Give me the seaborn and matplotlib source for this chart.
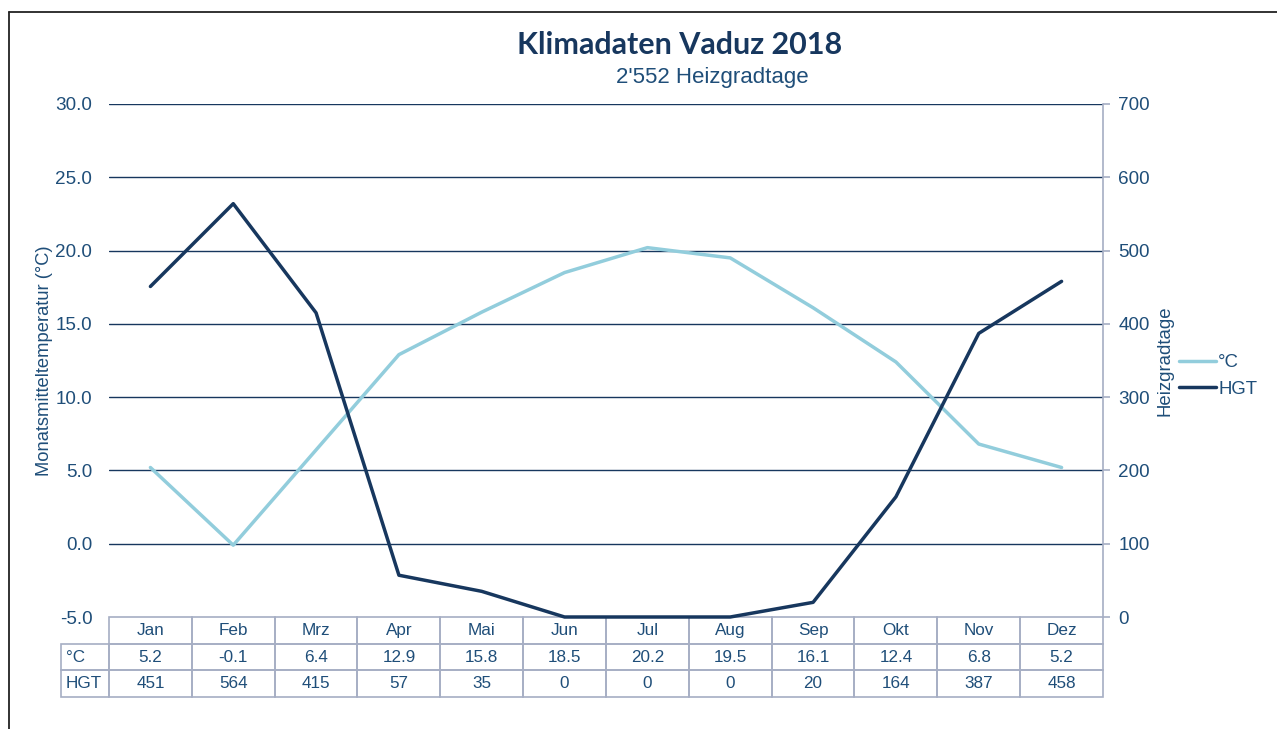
import matplotlib
matplotlib.use("Agg")
import matplotlib.pyplot as plt
import seaborn as sns
import pandas as pd
from matplotlib.table import Table
from matplotlib.lines import Line2D
from matplotlib.ticker import FormatStrFormatter

# ---- data ----
months = ["Jan", "Feb", "Mrz", "Apr", "Mai", "Jun", "Jul", "Aug", "Sep", "Okt", "Nov", "Dez"]
temp = [5.2, -0.1, 6.4, 12.9, 15.8, 18.5, 20.2, 19.5, 16.1, 12.4, 6.8, 5.2]
hgt = [451, 564, 415, 57, 35, 0, 0, 0, 20, 164, 387, 458]
row_labels = ["°C", "HGT"]
title = "Klimadaten Vaduz 2018"
subtitle = "2'552 Heizgradtage"

LIGHT = "#92CDDC"
DARK = "#17375E"
TXT = "#1F4E79"
GRID = "#17375E"
EDGE = "#A6AEC4"

sns.set_style("white")
plt.rcParams["font.family"] = ["Liberation Sans", "DejaVu Sans"]

W, H = 1277, 729
fig = plt.figure(figsize=(W / 100, H / 100), dpi=100)
ax = fig.add_axes([109 / W, 1 - 617 / H, 994 / W, 513 / H])
ax2 = ax.twinx()

df = pd.DataFrame({"Monat": months, "temp": temp, "hgt": hgt})
sns.lineplot(data=df, x="Monat", y="temp", ax=ax, color=LIGHT, lw=2.5, sort=False, legend=False)
sns.lineplot(data=df, x="Monat", y="hgt", ax=ax2, color=DARK, lw=2.5, sort=False, legend=False)
for l in ax.lines + ax2.lines:
    l.set_clip_on(False)
    l.set_solid_joinstyle("round")

ax.set_xlim(-0.5, 11.5)
ax.set_xticks([])
ax.set_xlabel("")
ax.set_ylim(-5, 30)
ax.set_yticks(range(-5, 31, 5))
ax.yaxis.set_major_formatter(FormatStrFormatter("%.1f"))
ax2.set_ylim(0, 700)
ax2.set_yticks(range(0, 701, 100))

for s in ax.spines.values():
    s.set_visible(False)
for k, s in ax2.spines.items():
    s.set_visible(k == "right")
ax2.spines["right"].set_color(EDGE)
ax2.spines["right"].set_linewidth(1.2)

ax.grid(axis="y", color=GRID, lw=1.0)
ax.set_axisbelow(True)
ax.yaxis.get_gridlines()[0].set_visible(False)

ax.tick_params(axis="y", length=0, pad=12, labelsize=13.6, labelcolor=TXT)
ax2.tick_params(axis="y", length=5, width=1.2, color=EDGE, pad=6, labelsize=13.6, labelcolor=TXT, direction="out")

ax.set_ylabel("Monatsmitteltemperatur (°C)", fontsize=13.2, color=TXT, labelpad=2)
ax2.set_ylabel("Heizgradtage", fontsize=13.4, color=TXT, labelpad=5)

# ---- data table ----
tb = Table(ax, bbox=[-48 / 994, -80 / 513, 1 + 48 / 994, 80 / 513])
w0 = 48 / 994
wc = 1 / 12
rows = [[""] + months,
        [row_labels[0]] + [f"{v:.1f}" for v in temp],
        [row_labels[1]] + [str(v) for v in hgt]]
for r, row in enumerate(rows):
    for c, txt in enumerate(row):
        cell = tb.add_cell(r, c, w0 if c == 0 else wc, 1 / 3, text=txt,
                           loc="left" if c == 0 else "center",
                           edgecolor=EDGE, facecolor="none")
        cell.set_linewidth(1.2)
        cell.get_text().set_color(TXT)
        if r == 0 and c == 0:
            cell.visible_edges = ""
tb.auto_set_font_size(False)
tb.set_fontsize(12.3)
ax.add_table(tb)

# ---- legend ----
fig.legend(handles=[ax.lines[0], ax2.lines[0]], labels=row_labels,
           loc="center left", bbox_to_anchor=(1179 / W, 1 - 376 / H),
           frameon=False, fontsize=13.4, handlelength=2.0, handletextpad=0.1,
           labelspacing=0.5, borderpad=0, borderaxespad=0, labelcolor=TXT)

# ---- titles ----
fig.text(680 / W, 1 - 45 / H, title, ha="center", va="center", fontsize=22,
         fontweight="bold", family=["Lato", "DejaVu Sans"], color=DARK)
fig.text(712 / W, 1 - 77 / H, subtitle, ha="center", va="center", fontsize=16, color=TXT)

# ---- outer frame ----
fig.add_artist(Line2D([9 / W, 9 / W], [0, 1 - 12 / H], transform=fig.transFigure, color="#222222", lw=1.3))
fig.add_artist(Line2D([9 / W, 1], [1 - 12 / H, 1 - 12 / H], transform=fig.transFigure, color="#222222", lw=1.3))

fig.savefig("out.png", dpi=100)
